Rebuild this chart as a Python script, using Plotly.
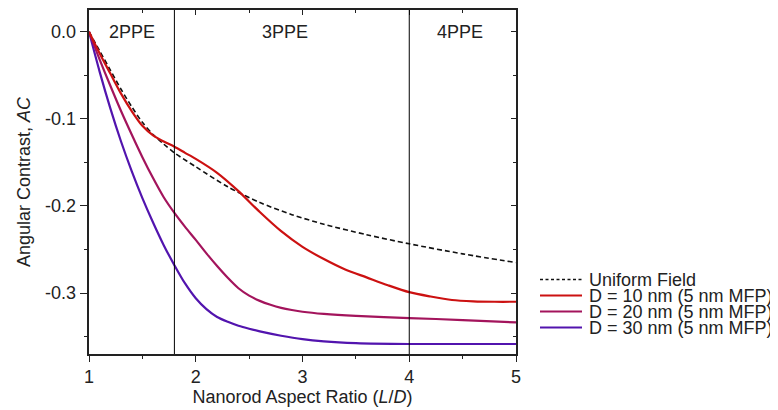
import plotly.graph_objects as go

# ---------------- data ----------------
x_uniform = [1.0, 1.1, 1.2, 1.3, 1.4, 1.5, 1.6, 1.7, 1.8, 2.0, 2.3, 2.6, 2.9, 3.2, 3.6, 4.0, 4.5, 5.0]
y_uniform = [0.0, -0.022, -0.044, -0.066, -0.086, -0.104, -0.118, -0.129, -0.139, -0.155,
             -0.178, -0.196, -0.210, -0.221, -0.233, -0.2435, -0.255, -0.265]

x_d10 = [1.0, 1.1, 1.2, 1.3, 1.4, 1.5, 1.6, 1.7, 1.8, 1.9, 2.0, 2.2, 2.4, 2.6, 2.8, 3.0,
         3.2, 3.4, 3.6, 3.8, 4.0, 4.2, 4.4, 4.6, 4.8, 5.0]
y_d10 = [0.0, -0.025, -0.048, -0.071, -0.091, -0.108, -0.119, -0.126, -0.132, -0.139, -0.146,
         -0.162, -0.183, -0.207, -0.229, -0.247, -0.261, -0.273, -0.282, -0.291, -0.299,
         -0.304, -0.308, -0.3095, -0.310, -0.310]

x_d20 = [1.0, 1.1, 1.2, 1.3, 1.4, 1.5, 1.6, 1.7, 1.8, 1.9, 2.0, 2.1, 2.2, 2.3, 2.4, 2.5,
         2.6, 2.7, 2.8, 2.9, 3.0, 3.2, 3.5, 4.0, 4.5, 5.0]
y_d20 = [0.0, -0.032, -0.062, -0.091, -0.118, -0.144, -0.168, -0.190, -0.208, -0.224, -0.239,
         -0.2545, -0.269, -0.2825, -0.2945, -0.303, -0.309, -0.3135, -0.317, -0.3195, -0.3215,
         -0.324, -0.3263, -0.3287, -0.331, -0.3337]

x_d30 = [1.0, 1.1, 1.2, 1.3, 1.4, 1.5, 1.6, 1.7, 1.8, 1.9, 2.0, 2.1, 2.2, 2.3, 2.4, 2.5,
         2.6, 2.8, 3.0, 3.2, 3.5, 4.0, 5.0]
y_d30 = [0.0, -0.046, -0.088, -0.126, -0.160, -0.191, -0.219, -0.245, -0.268, -0.289, -0.306,
         -0.3185, -0.3275, -0.333, -0.3375, -0.341, -0.344, -0.349, -0.353, -0.3555, -0.3575,
         -0.3585, -0.3585]

series_names = ["Uniform Field", "D = 10 nm (5 nm MFP)", "D = 20 nm (5 nm MFP)", "D = 30 nm (5 nm MFP)"]
region_bounds = [1.8, 4.0]
region_labels = ["2PPE", "3PPE", "4PPE"]
region_label_x = [1.4, 2.84, 4.48]

x_tickvals = [1, 2, 3, 4, 5]
x_ticktext = ["1", "2", "3", "4", "5"]
y_tickvals = [0.0, -0.1, -0.2, -0.3]
y_ticktext = ["0.0", "-0.1", "-0.2", "-0.3"]
y_minor = [-0.05, -0.15, -0.25, -0.35]

# ---------------- styles ----------------
FONT = "Arial, Liberation Sans, sans-serif"
FS = 18
styles = [
    dict(color="#111111", width=1.6, dash="5px,3px"),
    dict(color="#CC1111", width=2.2, dash="solid"),
    dict(color="#A3145C", width=2.2, dash="solid"),
    dict(color="#5214AE", width=2.2, dash="solid"),
]
xs_all = [x_uniform, x_d10, x_d20, x_d30]
ys_all = [y_uniform, y_d10, y_d20, y_d30]

fig = go.Figure()
draw_order = [3, 2, 0, 1]
for i in draw_order:
    fig.add_trace(go.Scatter(
        x=xs_all[i], y=ys_all[i], mode="lines", name=series_names[i],
        line=dict(color=styles[i]["color"], width=styles[i]["width"],
                  dash=styles[i]["dash"], shape="spline", smoothing=0.8),
        showlegend=False, hoverinfo="skip"))

# region boundary lines
for b in region_bounds:
    fig.add_shape(type="line", xref="x", yref="paper", x0=b, x1=b, y0=0, y1=1,
                  line=dict(color="black", width=1))

annotations = []
for lab, lx in zip(region_labels, region_label_x):
    annotations.append(dict(x=lx, y=0.0, xref="x", yref="y", text=lab, showarrow=False,
                            xanchor="center", yanchor="middle",
                            font=dict(family=FONT, size=FS, color="#222")))

# page body has an 8px margin: size the figure so the plot lands where the reference has it
OFF = 8
L, R, T, B = 81, 262, 2, 56
W, H = 778 - OFF, 410 - OFF
pw, ph = W - L - R, H - T - B


def px2paper(px, py):
    return ((px - OFF) - L) / pw, (H - B - (py - OFF)) / ph


# manual legend (compact row spacing as in the reference)
leg_x0, leg_x1, leg_tx = 540, 582, 587
leg_y0, leg_dy = 279.5, 16
for k in range(len(series_names)):
    py = leg_y0 + k * leg_dy
    ax0, ay = px2paper(leg_x0, py)
    ax1, _ = px2paper(leg_x1, py)
    atx, _ = px2paper(leg_tx, py)
    st = styles[k]
    fig.add_shape(type="line", xref="paper", yref="paper", x0=ax0, x1=ax1, y0=ay, y1=ay,
                  line=dict(color=st["color"], width=st["width"],
                            dash="3px,2.5px" if k == 0 else "solid"))
    annotations.append(dict(x=atx, y=ay, xref="paper", yref="paper", text=series_names[k],
                            showarrow=False, xanchor="left", yanchor="middle",
                            font=dict(family=FONT, size=FS, color="#222")))

axis_common = dict(showgrid=False, zeroline=False, showline=True, linecolor="#222",
                   linewidth=1.5, tickcolor="#222", tickwidth=1.2)

fig.update_layout(
    width=W, height=H,
    margin=dict(l=L, r=R, t=T, b=B, autoexpand=False),
    paper_bgcolor="white", plot_bgcolor="white",
    font=dict(family=FONT, size=FS, color="#222"),
    annotations=annotations,
    xaxis=dict(range=[1, 5], tickmode="array", tickvals=x_tickvals, ticktext=x_ticktext,
               ticks="outside", ticklen=6, mirror=True,
               minor=dict(tickmode="linear", tick0=1, dtick=0.5, ticks="outside", ticklen=3.5,
                          tickcolor="#222", tickwidth=1.2),
               title=dict(text="Nanorod Aspect Ratio (<i>L</i>/<i>D</i>)", standoff=4,
                          font=dict(family=FONT, size=FS)),
               tickfont=dict(family=FONT, size=FS), **axis_common),
    yaxis=dict(range=[-0.37, 0.025], tickmode="array", tickvals=y_tickvals, ticktext=y_ticktext,
               ticks="outside", ticklen=7.5, mirror=True,
               minor=dict(tickmode="array", tickvals=y_minor, ticks="outside", ticklen=3.5,
                          tickcolor="#222", tickwidth=1.2),
               title=dict(text="Angular Contrast, <i>AC</i>", standoff=10,
                          font=dict(family=FONT, size=FS)),
               tickfont=dict(family=FONT, size=FS), **axis_common),
    xaxis2=dict(overlaying="x", side="top", range=[1, 5], tickmode="array", tickvals=x_tickvals,
                ticks="inside", ticklen=5, showticklabels=False, showgrid=False, zeroline=False,
                showline=False, tickcolor="#222", tickwidth=1.2,
                minor=dict(tickmode="linear", tick0=1, dtick=0.5, ticks="inside", ticklen=2.5,
                           tickcolor="#222", tickwidth=1.2)),
    yaxis2=dict(overlaying="y", side="right", range=[-0.37, 0.025], tickmode="array",
                tickvals=y_tickvals, ticks="inside", ticklen=5.5, showticklabels=False,
                showgrid=False, zeroline=False, showline=False, tickcolor="#222", tickwidth=1.2,
                minor=dict(tickmode="array", tickvals=y_minor, ticks="inside", ticklen=3,
                           tickcolor="#222", tickwidth=1.2)),
)
# anchor trace for the mirrored tick axes (no visible marks)
fig.add_trace(go.Scatter(x=[None], y=[None], xaxis="x2", yaxis="y2", showlegend=False,
                         hoverinfo="skip"))

fig.write_html("out.html")
